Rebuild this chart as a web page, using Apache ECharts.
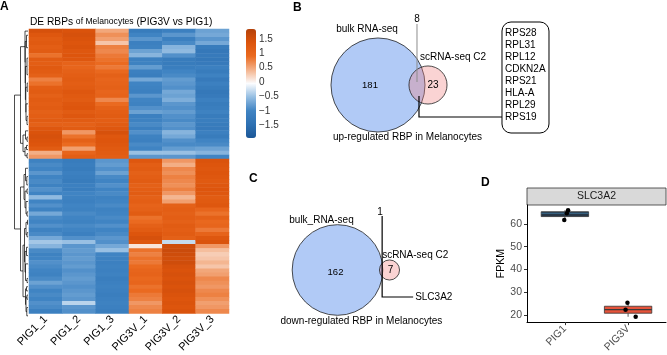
<!DOCTYPE html>
<html>
<head>
<meta charset="utf-8">
<script src="https://cdn.jsdelivr.net/npm/echarts@6/dist/echarts.min.js"></script>
<style>
html, body { margin: 0; padding: 0; background: #fff; }
#chart { width: 667px; height: 355px; }
</style>
</head>
<body>
<div id="chart"></div>
<script>
// ---------- data ----------
// heatmap: row z-scores, 32 rows of the upper cluster followed by 38 rows of the lower cluster
var sampleNames = ['PIG1_1', 'PIG1_2', 'PIG1_3', 'PIG3V_1', 'PIG3V_2', 'PIG3V_3'];
var pig1_1 = [1.45,1.3,1.2,1.25,1.15,1.2,0.85,1.2,1.15,1.25,1.2,1.1,0.75,0.85,1.15,1.2,1.1,1.2,1.15,1.2,1.1,1.15,1.2,1.1,1.3,1.4,1.45,1.4,1.35,1.2,0.45,0.6,
    -1.05,-0.95,-1.0,-0.85,-1.0,-0.95,-1.05,-0.9,-1.0,-0.55,-1.0,-0.9,-1.05,-0.7,-0.95,-1.0,-0.9,-1.05,-0.95,-0.7,-0.45,-0.6,-0.95,-1.05,-1.0,-0.9,-0.95,-1.0,-1.05,-0.95,-0.75,-0.9,-1.0,-0.95,-1.0,-0.9,-0.95,-1.1];
var pig1_2 = [1.4,1.45,1.4,1.35,1.4,1.3,1.35,1.3,1.05,1.0,1.1,1.15,1.2,1.15,1.2,1.3,1.25,1.2,1.3,1.35,1.2,1.3,1.2,1.1,1.2,0.6,0.85,1.1,0.9,0.55,1.0,1.15,
    -1.2,-1.15,-1.2,-1.1,-1.15,-1.2,-1.1,-1.15,-1.0,-1.05,-1.1,-1.0,-1.05,-0.95,-1.0,-1.05,-0.95,-1.0,-1.1,-0.9,-0.5,-0.85,-0.8,-0.85,-0.8,-0.85,-0.8,-0.9,-0.85,-0.8,-0.85,-0.9,-0.85,-0.8,-0.85,-0.35,-0.85,-0.9];
var pig1_3 = [0.5,0.65,0.55,0.3,0.75,0.7,0.8,0.85,0.9,0.8,0.95,1.1,1.0,1.05,1.1,1.0,1.05,0.7,0.9,1.1,1.15,1.2,1.15,1.2,1.3,1.45,1.3,1.35,1.3,1.25,1.2,1.15,
    -0.85,-0.8,-0.9,-0.75,-0.95,-1.0,-0.9,-1.0,-0.95,-1.05,-1.0,-0.95,-1.05,-1.0,-0.95,-1.0,-0.9,-1.0,-0.95,-0.85,-0.9,-0.7,-0.5,-1.0,-1.05,-1.1,-1.05,-1.1,-1.05,-1.15,-1.1,-1.05,-1.1,-1.15,-1.1,-1.05,-1.1,-1.15];
var pig3v_1 = [-1.2,-1.0,-0.85,-1.1,-1.05,-0.75,-0.6,-1.1,-1.05,-0.8,-1.1,-1.15,-0.7,-1.0,-1.05,-1.1,-0.85,-1.0,-1.05,-0.9,-0.75,-1.1,-1.05,-0.95,-1.1,-0.9,-1.05,-1.1,-0.95,-1.0,-0.5,-0.85,
    1.3,1.15,1.2,1.1,1.15,1.2,1.1,1.15,1.2,1.1,1.15,1.05,1.1,1.2,0.85,0.9,1.1,1.2,1.35,1.45,1.3,0.1,0.85,0.75,0.85,0.8,0.9,1.0,1.05,0.95,1.0,0.85,0.9,0.8,0.75,0.6,0.7,0.75];
var pig3v_2 = [-1.1,-0.85,-1.1,-0.95,-0.6,-0.55,-0.9,-1.2,-1.2,-1.15,-1.0,-0.95,-0.8,-0.85,-0.9,-0.7,-0.75,-0.65,-0.85,-0.9,-0.8,-0.9,-0.95,-0.85,-0.9,-0.6,-0.7,-0.9,-0.95,-0.8,-0.5,-0.85,
    0.6,0.45,0.7,0.65,0.75,0.7,0.65,0.75,0.6,0.4,0.55,1.1,1.15,1.1,1.15,1.1,1.2,1.15,1.2,1.1,-0.3,1.55,1.6,1.55,1.5,1.55,1.45,1.4,1.45,1.4,1.45,1.4,1.45,1.4,1.35,1.4,1.35,1.4];
var pig3v_3 = [-0.75,-0.7,-0.85,-0.7,-1.2,-1.3,-1.25,-1.3,-1.25,-1.1,-1.2,-1.05,-1.25,-1.1,-1.2,-1.3,-1.25,-1.1,-1.2,-1.15,-1.05,-1.2,-1.15,-1.2,-1.25,-1.1,-1.2,-1.0,-0.95,-0.75,-0.6,-1.0,
    1.4,1.35,1.3,1.35,1.3,1.25,1.3,1.35,1.3,1.2,1.25,1.3,1.0,0.85,1.1,0.95,1.0,0.8,1.05,1.3,1.4,0.6,0.35,0.25,0.3,0.4,0.3,0.5,0.55,0.7,0.65,0.6,0.7,0.75,0.65,0.55,0.6,0.7];
var colorTicks = [-1.5, -1, -0.5, 0, 0.5, 1, 1.5];
var zMin = -1.95, zMax = 1.85;

// row dendrogram merges: [height, rowA, heightA, rowB, heightB]
var dendroMerges = [
    [13.5, 15.9, 7.5, 48.1, 7.5],
    [7.5, 4.25, 3, 27.5, 5],
    [3, 0.5, 0, 8, 2.8], [2.8, 3, 1.5, 13, 2.6], [1.5, 1.5, 0, 4.5, 0],
    [2.6, 9, 1, 17, 2.2], [1, 7, 0, 11, 0], [2.2, 14, 0.8, 20, 2], [0.8, 13, 0, 15, 0],
    [2, 18, 0, 22, 1], [1, 21, 0, 23, 0],
    [5, 25.5, 2.5, 29.5, 3], [2.5, 24.5, 0, 26.5, 1], [1, 26, 0, 27, 0],
    [3, 28.5, 1.5, 30.5, 1], [1.5, 28, 0, 29, 0], [1, 30, 0, 31, 0],
    [7.5, 38, 4, 58.2, 5],
    [4, 35, 2.5, 41, 3], [2.5, 33.5, 0, 36.5, 1.2], [1.2, 35.5, 0, 37.5, 0],
    [3, 39, 1, 43, 2], [1, 38.5, 0, 39.5, 0], [2, 41.5, 0, 44.5, 1], [1, 44, 0, 45, 0],
    [5, 52, 3.5, 64.4, 2.5], [3.5, 48, 2, 56, 3], [2, 46.5, 0.5, 49.5, 1],
    [0.5, 46, 0, 47, 0], [1, 49, 0, 50, 0],
    [3, 53.5, 1.5, 58.5, 2.5], [1.5, 52.5, 0, 54.5, 0], [2.5, 56.5, 0, 60.5, 1], [1, 60, 0, 61, 0],
    [2.5, 62.5, 1.5, 66.25, 2], [1.5, 62, 0, 63, 0], [2, 64.5, 1, 68, 1.2],
    [1, 64, 0, 65, 0], [1.2, 67, 0, 69, 0]
];

// venn counts
var upBulkOnly = 181, upShared = 8, upScOnly = 23;
var downBulkOnly = 162, downShared = 1, downScOnly = 7;
var upSharedGenes = ['RPS28', 'RPL31', 'RPL12', 'CDKN2A', 'RPS21', 'HLA-A', 'RPL29', 'RPS19'];
var downSharedGenes = ['SLC3A2'];

// SLC3A2 expression
var boxGroups = ['PIG1', 'PIG3V'];
var slc3a2Pig1 = [61.7, 64.6, 65.9];
var slc3a2Pig3v = [19.4, 22.5, 25.5];
var jitterPig1 = [-0.01, 0.03, 0.05];
var jitterPig3v = [0.12, -0.04, -0.01];
var fpkmTicks = [20, 30, 40, 50, 60];

// ---------- chart ----------
var FONT = '"Liberation Sans", Arial, sans-serif';
var chart = echarts.init(document.getElementById('chart'));

var columns = [pig1_1, pig1_2, pig1_3, pig3v_1, pig3v_2, pig3v_3];
var rowNames = [];
for (var r = 0; r < pig1_1.length; r++) rowNames.push('g' + r);
var heatData = [];
for (var c = 0; c < columns.length; c++) {
    for (var r = 0; r < columns[c].length; r++) {
        heatData.push([c, r, columns[c][r]]);
    }
}

var dendroLines = dendroMerges.map(function (m) {
    return { coords: [[m[2], m[1]], [m[0], m[1]], [m[0], m[3]], [m[4], m[3]]] };
});

function quantile(arr, p) {
    var s = arr.slice().sort(function (a, b) { return a - b; });
    var h = (s.length - 1) * p, lo = Math.floor(h);
    return s[lo] + (h - lo) * ((s[lo + 1] !== undefined ? s[lo + 1] : s[lo]) - s[lo]);
}
function boxStats(pos, arr) {
    return [pos, Math.min.apply(null, arr), quantile(arr, 0.25), quantile(arr, 0.5), quantile(arr, 0.75), Math.max.apply(null, arr)];
}
var boxData = [boxStats(1, slc3a2Pig1), boxStats(2, slc3a2Pig3v)];
var pointData = [];
slc3a2Pig1.forEach(function (v, i) { pointData.push([1 + jitterPig1[i], v]); });
slc3a2Pig3v.forEach(function (v, i) { pointData.push([2 + jitterPig3v[i], v]); });

// venn geometry: circle area proportional to set size, centre distance from layout
function vennGeom(bulkOnly, shared, scOnly, k, cx, cy, d) {
    var r1 = k * Math.sqrt(bulkOnly + shared), r2 = k * Math.sqrt(scOnly + shared);
    return { cx: cx, cy: cy, r1: r1, r2: r2, sx: cx + d, xl: (cx + r1 + cx + d - r2) / 2 };
}

function renderVenn(params, api) {
    var P = function (x, y) { return api.coord([x, y]); };
    var S = function (v) { return api.size([v, 0])[0]; };
    function txt(x, y, s, align, size) {
        var p = P(x, y);
        return { type: 'text', style: { x: p[0], y: p[1], text: s, fill: '#000', fontSize: size || 10, fontFamily: FONT, align: align || 'center', verticalAlign: 'middle' } };
    }
    function seg(pts, color, w) {
        return { type: 'polyline', shape: { points: pts.map(function (q) { return P(q[0], q[1]); }) }, style: { stroke: color, lineWidth: w, fill: null } };
    }
    function circ(x, y, r, fill) {
        var p = P(x, y);
        return { type: 'circle', shape: { cx: p[0], cy: p[1], r: S(r) }, style: { fill: fill, stroke: '#222', lineWidth: 0.8 } };
    }
    var kids = [];
    if (params.dataIndex === 0) {
        var g = vennGeom(upBulkOnly, upShared, upScOnly, 3.42, 378, 85, 50);
        kids.push(circ(g.cx, g.cy, g.r1, 'rgba(100,149,237,0.5)'));
        kids.push(circ(g.sx, g.cy, g.r2, 'rgba(240,128,128,0.35)'));
        kids.push(txt(g.cx - 8, g.cy, String(upBulkOnly), 'center', 9.5));
        kids.push(txt(g.sx + 5, g.cy, String(upScOnly), 'center', 10));
        kids.push(txt(g.xl, g.cy - 66, String(upShared), 'center', 10));
        kids.push(seg([[g.xl, g.cy - 61], [g.xl, g.cy - 3]], '#8c8c8c', 1));
        var bx = g.xl + 85;
        kids.push(seg([[g.xl + 2, g.cy + 11], [g.xl + 2, g.cy + 32], [bx, g.cy + 32]], '#000', 1.2));
        var tl = P(bx, g.cy - 63), br = P(bx + 47, g.cy + 48);
        kids.push({ type: 'rect', shape: { x: tl[0], y: tl[1], width: br[0] - tl[0], height: br[1] - tl[1], r: 9 }, style: { fill: null, stroke: '#000', lineWidth: 1 } });
        upSharedGenes.forEach(function (gname, i) {
            kids.push(txt(bx + 3, g.cy - 52 + 12 * i, gname, 'left', 10));
        });
        kids.push(txt(g.cx - 11, g.cy - 56, 'bulk RNA-seq', 'center', 10));
        kids.push(txt(g.sx - 8, g.cy - 28, 'scRNA-seq C2', 'left', 10));
        kids.push(txt(g.cx - 45, g.cy + 52, 'up-regulated RBP in Melanocytes', 'left', 10));
    } else {
        var h = vennGeom(downBulkOnly, downShared, downScOnly, 3.55, 337.5, 270, 52);
        kids.push(circ(h.cx, h.cy, h.r1, 'rgba(100,149,237,0.5)'));
        kids.push(circ(h.sx, h.cy, h.r2, 'rgba(240,128,128,0.35)'));
        kids.push(txt(h.cx - 2, h.cy + 2, String(downBulkOnly), 'center', 9.5));
        kids.push(txt(h.sx + 1, h.cy, String(downScOnly), 'center', 10));
        kids.push(txt(h.xl - 1, h.cy - 58, String(downShared), 'center', 10));
        kids.push(seg([[h.xl + 1, h.cy - 54], [h.xl + 1, h.cy + 27], [h.xl + 32, h.cy + 27]], '#000', 1.2));
        kids.push(txt(h.xl + 34, h.cy + 27, downSharedGenes[0], 'left', 10));
        kids.push(txt(h.cx - 16, h.cy - 50, 'bulk_RNA-seq', 'center', 10));
        kids.push(txt(h.xl + 1, h.cy - 15, 'scRNA-seq C2', 'left', 10));
        kids.push(txt(h.cx - 57, h.cy + 51, 'down-regulated RBP in Melanocytes', 'left', 10));
    }
    return { type: 'group', children: kids };
}

var boxFill = ['#263646', '#e6533a'];
var boxMedian = ['#3d6f92', '#3a3a3a'];
function renderBox(params, api) {
    var x = api.value(0);
    var pMin = api.coord([x, api.value(1)]), pQ1 = api.coord([x, api.value(2)]);
    var pMed = api.coord([x, api.value(3)]), pQ3 = api.coord([x, api.value(4)]);
    var pMax = api.coord([x, api.value(5)]);
    var hw = api.size([0.375, 0])[0];
    var i = params.dataIndex;
    return {
        type: 'group',
        children: [
            { type: 'line', shape: { x1: pMax[0], y1: pMax[1], x2: pQ3[0], y2: pQ3[1] }, style: { stroke: '#333', lineWidth: 0.8 } },
            { type: 'line', shape: { x1: pQ1[0], y1: pQ1[1], x2: pMin[0], y2: pMin[1] }, style: { stroke: '#333', lineWidth: 0.8 } },
            { type: 'rect', shape: { x: pQ3[0] - hw, y: pQ3[1], width: hw * 2, height: pQ1[1] - pQ3[1] }, style: { fill: boxFill[i], stroke: '#333', lineWidth: 0.8 } },
            { type: 'line', shape: { x1: pMed[0] - hw, y1: pMed[1], x2: pMed[0] + hw, y2: pMed[1] }, style: { stroke: boxMedian[i], lineWidth: 1.2 } }
        ]
    };
}

var option = {
    animation: false,
    textStyle: { fontFamily: FONT },
    title: [
        { text: 'DE RBPs {s|of Melanocytes} (PIG3V vs PIG1)', left: 30, top: 17, padding: 0,
          textStyle: { fontSize: 10.2, fontWeight: 'normal', color: '#000', fontFamily: FONT, rich: { s: { fontSize: 8.6, fontFamily: FONT, color: '#000' } } } },
        { text: 'A', left: 0, top: 1, padding: 0, textStyle: { fontSize: 12, fontWeight: 'bold', color: '#000', fontFamily: FONT } },
        { text: 'B', left: 293, top: 2, padding: 0, textStyle: { fontSize: 12, fontWeight: 'bold', color: '#000', fontFamily: FONT } },
        { text: 'C', left: 249, top: 173, padding: 0, textStyle: { fontSize: 12, fontWeight: 'bold', color: '#000', fontFamily: FONT } },
        { text: 'D', left: 481, top: 177, padding: 0, textStyle: { fontSize: 12, fontWeight: 'bold', color: '#000', fontFamily: FONT } }
    ],
    visualMap: {
        type: 'continuous', seriesIndex: 0, min: zMin, max: zMax, calculable: false,
        orient: 'vertical', left: 246, top: 29, itemWidth: 10, itemHeight: 109, padding: 0,
        text: null, showLabel: false, hoverLink: false,
        inRange: { color: ['#1c5797', '#2e71b3', '#4084c3', '#94bde2', '#fbfcfe', '#f4b28b', '#ea6a20', '#dc540c', '#b5420a'] }
    },
    grid: [
        { left: 29, top: 29, width: 200, height: 291 },
        { left: 4, top: 29, width: 24, height: 291 },
        { left: 246, top: 29, width: 10, height: 109 },
        { left: 0, top: 0, width: 667, height: 355 },
        { left: 527, top: 205, width: 139, height: 118 }
    ],
    xAxis: [
        { type: 'category', gridIndex: 0, data: sampleNames, axisLine: { show: false }, axisTick: { show: false },
          axisLabel: { rotate: 45, interval: 0, fontSize: 11, color: '#000', margin: 4 } },
        { type: 'value', gridIndex: 1, min: 0, max: 24, inverse: true, show: false },
        { type: 'value', gridIndex: 2, min: 0, max: 1, show: false },
        { type: 'value', gridIndex: 3, min: 0, max: 667, show: false },
        { type: 'value', gridIndex: 4, min: 0.4, max: 2.6, splitLine: { show: false },
          axisLine: { show: true, lineStyle: { color: '#000', width: 1 } },
          axisTick: { show: true, customValues: [1, 2], length: 3, lineStyle: { color: '#333' } },
          axisLabel: { customValues: [1, 2], rotate: 45, fontSize: 10.5, color: '#4d4d4d', margin: 5,
                       formatter: function (v) { return boxGroups[Math.round(v) - 1]; } } }
    ],
    yAxis: [
        { type: 'category', gridIndex: 0, data: rowNames, inverse: true, show: false },
        { type: 'value', gridIndex: 1, min: 0, max: 70, inverse: true, show: false },
        { type: 'value', gridIndex: 2, min: zMin, max: zMax, position: 'right', splitLine: { show: false },
          axisLine: { show: false }, axisTick: { show: false },
          axisLabel: { customValues: colorTicks, fontSize: 10, color: '#333', margin: 3,
                       formatter: function (v) { return String(v).replace('-', '\u2212'); } } },
        { type: 'value', gridIndex: 3, min: 0, max: 355, inverse: true, show: false },
        { type: 'value', gridIndex: 4, min: 17.07, max: 68.2, splitLine: { show: false },
          name: 'FPKM', nameLocation: 'middle', nameGap: 20, nameTextStyle: { fontSize: 10.5, color: '#000' },
          axisLine: { show: true, lineStyle: { color: '#000', width: 1 } },
          axisTick: { show: true, customValues: fpkmTicks, length: 3, lineStyle: { color: '#333' } },
          axisLabel: { customValues: fpkmTicks, fontSize: 10.5, color: '#4d4d4d', margin: 5 } }
    ],
    graphic: [
        { type: 'rect', shape: { x: 527, y: 188, width: 139, height: 17 }, style: { fill: '#d9d9d9', stroke: '#333', lineWidth: 0.8 } },
        { type: 'text', style: { x: 596.5, y: 196.5, text: 'SLC3A2', fontSize: 10.5, fontFamily: FONT, fill: '#1a1a1a', align: 'center', verticalAlign: 'middle' } }
    ],
    series: [
        { type: 'heatmap', xAxisIndex: 0, yAxisIndex: 0, data: heatData, progressive: 0,
          itemStyle: { borderWidth: 0 }, emphasis: { disabled: true } },
        { type: 'lines', coordinateSystem: 'cartesian2d', xAxisIndex: 1, yAxisIndex: 1, polyline: true,
          data: dendroLines, lineStyle: { color: '#000', width: 0.7, opacity: 1 }, silent: true },
        { type: 'custom', xAxisIndex: 3, yAxisIndex: 3, data: [[0, 0], [1, 0]], renderItem: renderVenn, silent: true },
        { type: 'custom', xAxisIndex: 4, yAxisIndex: 4, data: boxData, renderItem: renderBox, silent: true, z: 2 },
        { type: 'scatter', xAxisIndex: 4, yAxisIndex: 4, data: pointData, symbolSize: 4.5,
          itemStyle: { color: '#000', opacity: 1 }, silent: true, z: 3 }
    ]
};
chart.setOption(option);
</script>
</body>
</html>
